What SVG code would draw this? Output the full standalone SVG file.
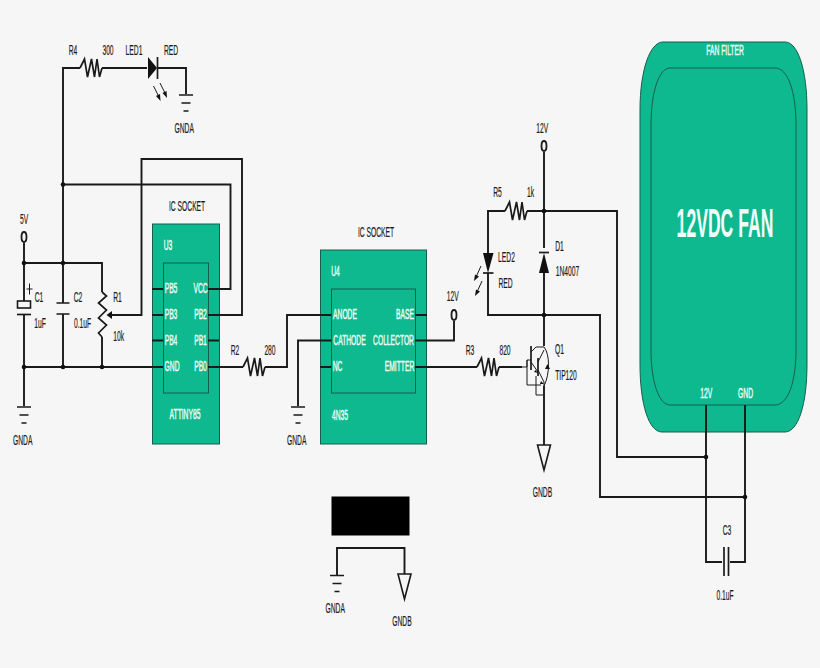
<svg xmlns="http://www.w3.org/2000/svg" width="820" height="668" viewBox="0 0 820 668">
<style>
text{font-family:"Liberation Sans",Arial,sans-serif;font-size:14px;fill:#1c1c1c;stroke:#1c1c1c;stroke-width:.2;text-anchor:middle;transform-box:fill-box;transform-origin:center;transform:scale(.48,1)}
.w{fill:#f2fff8;stroke:#f2fff8;stroke-width:.4}
.big{font-size:40px;font-weight:bold;stroke-width:0;transform:scale(.44,1)}
.wire{fill:none;stroke:#1a1a1a;stroke-width:1.9}
.box{fill:#0fb98f;stroke:#145f4c;stroke-width:1}
.in{fill:none;stroke:#145f4c;stroke-width:1}
.sym{fill:none;stroke:#1a1a1a;stroke-width:1.7}
.thin{fill:none;stroke:#1a1a1a;stroke-width:1}
.solid{fill:#111;stroke:none}
</style>
<defs>
<g id="res"><path class="sym" d="M-11 0L-6.500 -9L-3.500 9L.5 -9L3.500 9L6 -9L8.500 9L11 0"/></g>
<g id="gnda"><path class="sym" d="M-7 0H7M-4.500 8H4.500M-2.500 16H2.500"/></g>
<g id="gndb"><path d="M-6.500 0H6.500L0 25Z" fill="#f6f6f6" stroke="#1a1a1a" stroke-width="1.600"/></g>
<circle id="dot" r="2.300" fill="#111"/>
<ellipse id="term" rx="2.500" ry="5" fill="#f6f6f6" stroke="#1a1a1a" stroke-width="1.800"/>
</defs>
<rect width="820" height="668" fill="#f6f6f6"/>

<g id="fan">
<path class="box" d="M663 42H785C798 42 807 70 807 110V364C807 405 798 432 785 432H662C649 432 640 405 640 364V110C640 70 650 42 663 42Z"/>
<path class="in" d="M670 68H775C788 68 796 92 796 125V350C796 382 788 405 775 405H670C659 405 651 382 651 350V125C651 92 659 68 670 68Z"/>
<text class="w" x="725" y="55">FAN FILTER</text>
<text class="w big" x="725" y="237.500">12VDC FAN</text>
<text class="w" x="706" y="398">12V</text>
<text class="w" x="745.500" y="398">GND</text>
</g>

<g id="u3">
<rect class="box" x="152.500" y="224" width="67" height="220"/>
<rect class="in" x="163.500" y="263" width="45" height="130"/>
<text class="w" x="168" y="250">U3</text>
<text class="w" x="171" y="293.500">PB5</text>
<text class="w" x="171" y="319">PB3</text>
<text class="w" x="171" y="345">PB4</text>
<text class="w" x="172" y="371">GND</text>
<text class="w" x="200.500" y="293.500">VCC</text>
<text class="w" x="200.500" y="319">PB2</text>
<text class="w" x="200.500" y="345">PB1</text>
<text class="w" x="200.500" y="371">PB0</text>
<text class="w" x="185" y="419">ATTINY85</text>
<text x="187" y="211.500">IC SOCKET</text>
</g>

<g id="u4">
<rect class="box" x="320.500" y="250" width="106" height="194"/>
<rect class="in" x="331.500" y="289" width="84" height="104"/>
<text class="w" x="335.500" y="276">U4</text>
<text class="w" x="345" y="319.500">ANODE</text>
<text class="w" x="349.500" y="345">CATHODE</text>
<text class="w" x="337.500" y="371">NC</text>
<text class="w" x="405" y="319.500">BASE</text>
<text class="w" x="393.500" y="345">COLLECTOR</text>
<text class="w" x="399.500" y="371">EMITTER</text>
<text class="w" x="340" y="420">4N35</text>
<text x="376" y="237">IC SOCKET</text>
</g>

<g id="connectors">
<path class="wire" d="M63 263V68H80M102 68H147M158 68H186V94"/>
<path class="wire" d="M63 184.500H230.500V289H208M24 243V263H102V292M63 263V303M63 314V367M24 263V301M24 314V406M102 337V367M24 367H163"/>
<path class="wire" d="M112 315H141.500V159H242V315H208M152 289H163M152 315H163M152 340.500H163M208 340.500H219"/>
<path class="wire" d="M208 367H243M265 367H287V315H331M331 340.500H298V406M320 367H331M415 315H427M415 340.500H454V321M415 367H477M499 367H522"/>
<path class="wire" d="M544 152V248M544 272V346M544 386V445M505 211H488V253M488 273V315H600V497H745M527 211H617V457H706M706 405V562H722M745 405V562H730"/>
</g>

<g id="r4"><use href="#res" x="91" y="68"/><text x="73" y="55.500">R4</text><text x="108" y="55.500">300</text></g>
<g id="led1"><path class="solid" d="M148 57L157 68L148 79Z"/><path class="sym" d="M157.500 57V79"/><path class="thin" stroke-width="1.400" d="M153.500 86L159 97M160 83L165.500 94"/><path class="solid" d="M160.500 101L156 96L160 94ZM167 98L162.500 93L166.500 91Z"/><text x="134" y="55.500">LED1</text><text x="171" y="55.500">RED</text></g>
<g id="gnd1"><use href="#gnda" x="186" y="95"/><text x="184" y="133">GNDA</text></g>
<g id="v5"><use href="#term" x="24" y="237"/><text x="24" y="224.500">5V</text></g>
<g id="c1"><rect x="17.500" y="301" width="13" height="7" fill="#f6f6f6" stroke="#1a1a1a" stroke-width="1.600"/><path class="sym" d="M17 314.500H31"/><path class="thin" d="M29.500 283.500V294.500M26.500 289H32.500"/><text x="39" y="302.500">C1</text><text x="40" y="328">1uF</text></g>
<g id="c2"><path class="sym" d="M56.500 303H69.500M56.500 314H69.500"/><text x="78" y="302.500">C2</text><text x="82.500" y="328.500">0.1uF</text></g>
<g id="r1"><path class="sym" d="M102 292L106.500 296L98.500 303L106.500 310L98.500 318L106.500 325L98.500 333L102 337"/><path class="solid" d="M106.500 315L112 311V319Z"/><text x="117.500" y="302.500">R1</text><text x="118.500" y="341.500">10k</text></g>
<g id="gnd2"><use href="#gnda" x="24" y="407"/><text x="22.500" y="445">GNDA</text></g>
<g id="dots"><use href="#dot" x="63" y="184.500"/><use href="#dot" x="24" y="263"/><use href="#dot" x="63" y="263"/><use href="#dot" x="24" y="367"/><use href="#dot" x="63" y="367"/><use href="#dot" x="102" y="367"/><use href="#dot" x="544" y="211"/><use href="#dot" x="544" y="315"/><use href="#dot" x="706" y="457"/><use href="#dot" x="745" y="497"/></g>
<g id="r2"><use href="#res" x="254" y="367"/><text x="235" y="355">R2</text><text x="270" y="355">280</text></g>
<g id="gnd3"><use href="#gnda" x="298" y="407"/><text x="296.500" y="445">GNDA</text></g>
<g id="v12a"><use href="#term" x="454" y="315"/><text x="452.500" y="301.500">12V</text></g>
<g id="v12b"><use href="#term" x="544" y="146"/><text x="542" y="133">12V</text></g>
<g id="r5"><use href="#res" x="516" y="211"/><text x="497.500" y="197.500">R5</text><text x="530.500" y="197.500">1k</text></g>
<g id="d1"><path class="sym" d="M539 252.500H549"/><path class="solid" d="M544 253L549 273H539Z"/><text x="559.500" y="251">D1</text><text x="567.500" y="276.500">1N4007</text></g>
<g id="led2"><path class="solid" d="M483 253H493.500L488 273Z"/><path class="sym" d="M483 273H493.500"/><path class="thin" stroke-width="1.400" d="M481 266L476 277M482 281L477 292"/><path class="solid" d="M474 281L475 274.500L479 276.500ZM475 296L476 289.500L480 291.500Z"/><text x="506.500" y="262.500">LED2</text><text x="505.500" y="288.500">RED</text></g>
<g id="r3"><use href="#res" x="488" y="367"/><text x="470" y="355">R3</text><text x="505" y="355">820</text></g>
<g id="q1"><path class="sym" d="M531 346V370M538 358V376"/><path class="thin" d="M522 367H527M531 352L536 347H544M531 362L538 372M538 362L544 350M538 370L544 382V386M544 347C550 354 550 374 544 386M531 360H527V385H541M536 376V395H545M527 360V367"/><path class="solid" d="M547.500 364L550 369H545ZM535.500 370L538 373L534 372ZM541 381L544 384L540 384Z"/><text x="559.500" y="354.500">Q1</text><text x="566" y="380.500">TIP120</text></g>
<g id="gndb1"><use href="#gndb" x="544" y="445"/><text x="542.500" y="497.500">GNDB</text></g>
<g id="c3"><path class="sym" d="M724 547V576M728.500 547V576"/><text x="727" y="535.500">C3</text><text x="725" y="600.500">0.1uF</text></g>
<g id="blackbox"><rect x="331.500" y="496.500" width="78" height="39" fill="#000"/></g>
<g id="tie"><path class="wire" d="M337 575V548H404.500V574"/><use href="#gnda" x="337" y="575.500"/><use href="#gndb" x="404.500" y="574"/><text x="335" y="613">GNDA</text><text x="402" y="626.500">GNDB</text></g>
</svg>
